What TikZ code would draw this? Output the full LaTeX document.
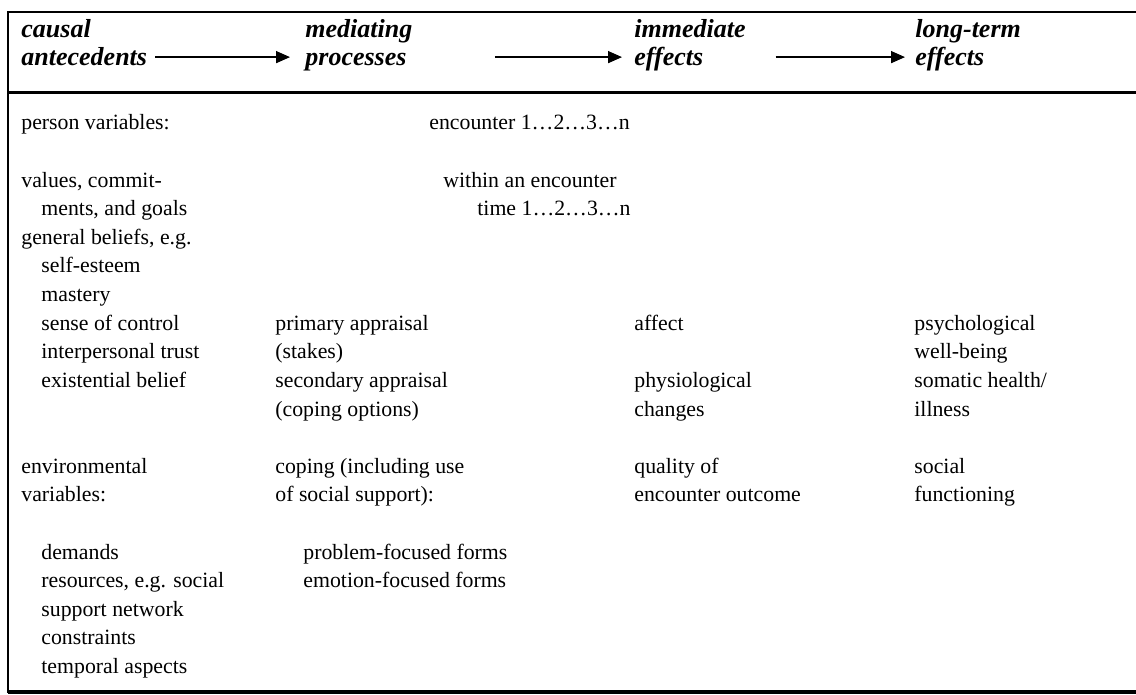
\documentclass[tikz,border=0pt]{standalone}
\usepackage{fontspec}
\setmainfont{Liberation Serif}
\usetikzlibrary{arrows.meta}
\tikzset{
	txt/.style={anchor=base west, inner sep=0pt, font=\fontsize{10.9}{13}\selectfont},
	head/.style={anchor=base west, inner sep=0pt, font=\fontsize{13}{15}\selectfont\bfseries\itshape},
	flow/.style={line width=0.8pt, -{Triangle[length=7pt,width=6pt]}}
}

\begin{document}
\begin{tikzpicture}[x=0.5pt, y=-0.5pt]
			%%%%% START %%%%%
			\useasboundingbox (0,0) rectangle (1136,695);
			
			% frame
			\draw[line width=1pt] (8,12) -- (1136,12);
			\draw[line width=1.5pt] (8,93) -- (1136,93);
			\draw[line width=2pt] (8,692) -- (1136,692);
			\draw[line width=1pt] (8,11.5) -- (8,693);
			
			% header
			\node[head] (causal) at (21,38) {causal};
			\node[head] (antecedents) at (21,66) {antecedents};
			\node[head] (mediating) at (305,38) {mediating};
			\node[head] (processes) at (305,66) {processes};
			\node[head] (immediate) at (634,38) {immediate};
			\node[head] (effectsA) at (634,66) {effects};
			\node[head] (longterm) at (915,38) {long-term};
			\node[head] (effectsB) at (915,66) {effects};
			
			\draw[flow, shorten <=4pt, shorten >=7.5pt] (antecedents.east) -- (antecedents.east -| processes.west);
			\draw[flow, shorten <=44pt, shorten >=6pt] (processes.east |- antecedents.east) -- (antecedents.east -| effectsA.west);
			\draw[flow, shorten <=36pt, shorten >=5pt] (effectsA.east |- antecedents.east) -- (antecedents.east -| effectsB.west);
			
			% causal antecedents
			\node[txt] (person) at (21,130) {person variables:};
			\node[txt] (values) at (21,187.2) {values, commit-};
			\node[txt] (ments) at (41,215.8) {ments, and goals};
			\node[txt] (beliefs) at (21,244.4) {general beliefs, e.g.};
			\node[txt] (esteem) at (41,273) {self-esteem};
			\node[txt] (mastery) at (41,301.6) {mastery};
			\node[txt] (control) at (41,330.2) {sense of control};
			\node[txt] (trust) at (41,358.8) {interpersonal trust};
			\node[txt] (existential) at (41,387.4) {existential belief};
			\node[txt] (environ) at (21,473.2) {environmental};
			\node[txt] (envvar) at (21,501.8) {variables:};
			\node[txt] (demands) at (41,559) {demands};
			\node[txt] (resources) at (41,587.6) {resources, e.g. social};
			\node[txt] (network) at (41,616.2) {support network};
			\node[txt] (constraints) at (41,644.8) {constraints};
			\node[txt] (temporal) at (41,673.4) {temporal aspects};
			
			% mediating processes
			\node[txt] (encounter) at (429,130) {encounter 1…2…3…n};
			\node[txt] (within) at (443,187.2) {within an encounter};
			\node[txt] (time) at (477,215.8) {time 1…2…3…n};
			\node[txt] (primary) at (275,330.2) {primary appraisal};
			\node[txt] (stakes) at (275,358.8) {(stakes)};
			\node[txt] (secondary) at (275,387.4) {secondary appraisal};
			\node[txt] (options) at (275,416) {(coping options)};
			\node[txt] (coping) at (275,473.2) {coping (including use};
			\node[txt] (support) at (275,501.8) {of social support):};
			\node[txt] (problem) at (303,559) {problem-focused forms};
			\node[txt] (emotion) at (303,587.6) {emotion-focused forms};
			
			% immediate effects
			\node[txt] (affect) at (634,330.2) {affect};
			\node[txt] (physio) at (634,387.4) {physiological};
			\node[txt] (changes) at (634,416) {changes};
			\node[txt] (quality) at (634,473.2) {quality of};
			\node[txt] (outcome) at (634,501.8) {encounter outcome};
			
			% long-term effects
			\node[txt] (psych) at (914,330.2) {psychological};
			\node[txt] (wellbeing) at (914,358.8) {well-being};
			\node[txt] (somatic) at (914,387.4) {somatic health/};
			\node[txt] (illness) at (914,416) {illness};
			\node[txt] (social) at (914,473.2) {social};
			\node[txt] (functioning) at (914,501.8) {functioning};
			%%%%% END %%%%%
\end{tikzpicture}
\end{document}
